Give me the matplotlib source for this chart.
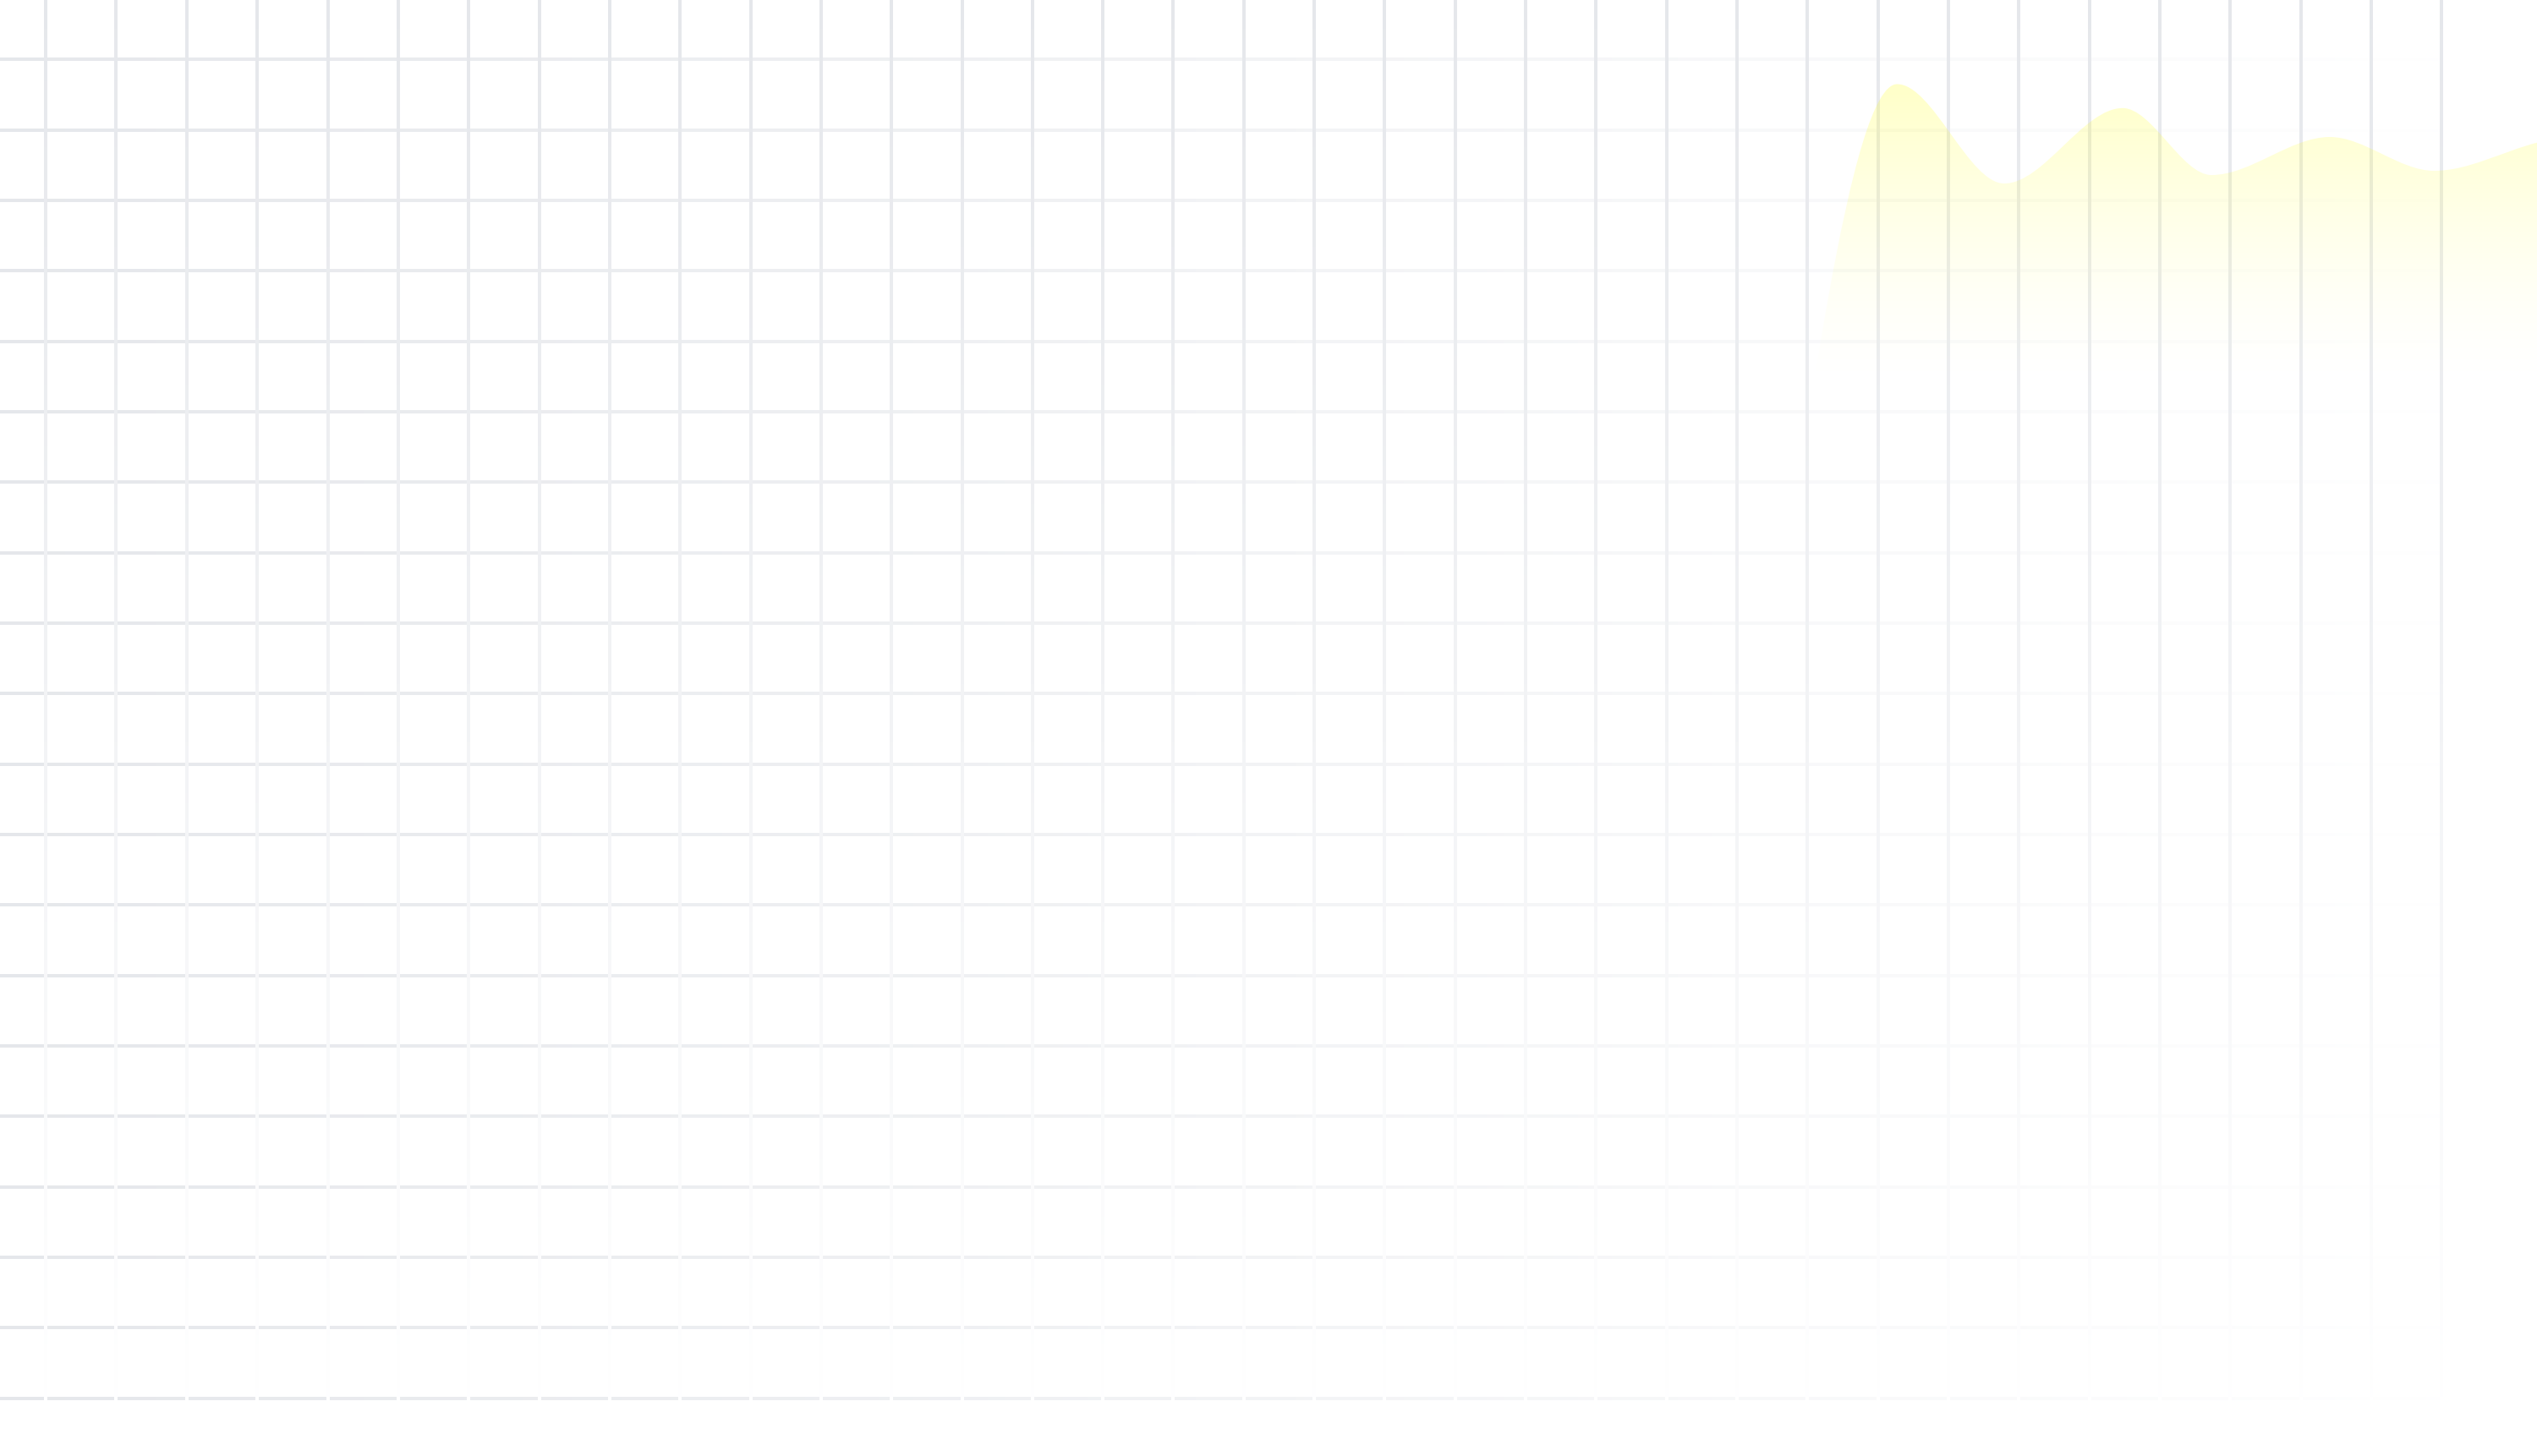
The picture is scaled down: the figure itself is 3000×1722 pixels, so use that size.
import numpy as np
import matplotlib.pyplot as plt
from matplotlib.collections import LineCollection
from matplotlib.path import Path
from matplotlib.patches import PathPatch
from matplotlib.colors import to_rgb

# canvas in grid units (one cell = one unit)
W, H = 36.0, 20.664

# grid: column positions, row positions and how far the lines run
col_x = np.arange(35) + 0.65
row_y = np.arange(20) + 0.82
col_top, col_bottom = 20.64, 0.41
row_left, row_right = 0.0, 35.4

# area curve in the top right corner
curve_x = [21.5, 23.0, 26.92, 28.44, 30.12, 31.38, 33.06, 34.54, 36.0, 37.5]
curve_y = [0.0, 0.0, 19.47, 18.06, 19.13, 18.18, 18.72, 18.24, 18.64, 19.0]

grid_color = '#e5e7eb'
fill_color = '#ffff00'
fill_alpha = 0.22
fade_top, fade_bottom = 19.5, 15.1


def faded_lines(fixed, start, stop, vertical, n=300):
    # line fades from full colour at start to white at stop
    t = np.linspace(0, 1, n + 1)
    pos = start + (stop - start) * t
    base = np.array(to_rgb(grid_color))
    segs, cols = [], []
    for f in fixed:
        for i in range(n):
            if vertical:
                segs.append([(f, pos[i]), (f, pos[i + 1])])
            else:
                segs.append([(pos[i], f), (pos[i + 1], f)])
            a = 1 - (t[i] + t[i + 1]) / 2
            cols.append(1 - a * (1 - base))
    return segs, cols


def monotone_path(x, y):
    # monotone cubic (like d3 curveMonotoneX) as bezier path, closed to y=0
    x = np.asarray(x, float)
    y = np.asarray(y, float)
    h = np.diff(x)
    s = np.diff(y) / h
    n = len(x)
    m = np.zeros(n)
    for i in range(1, n - 1):
        if s[i - 1] * s[i] <= 0:
            m[i] = 0
        else:
            p = (s[i - 1] * h[i] + s[i] * h[i - 1]) / (h[i - 1] + h[i])
            m[i] = (np.sign(s[i - 1]) + np.sign(s[i])) * min(abs(s[i - 1]), abs(s[i]), 0.5 * abs(p))
    m[0] = (3 * s[0] - m[1]) / 2
    m[-1] = (3 * s[-1] - m[-2]) / 2

    verts = [(x[0], y[0])]
    codes = [Path.MOVETO]
    for i in range(n - 1):
        d = h[i] / 3
        verts += [(x[i] + d, y[i] + m[i] * d),
                  (x[i + 1] - d, y[i + 1] - m[i + 1] * d),
                  (x[i + 1], y[i + 1])]
        codes += [Path.CURVE4] * 3
    verts += [(x[-1], 0), (x[0], 0), (x[0], y[0])]
    codes += [Path.LINETO, Path.LINETO, Path.CLOSEPOLY]
    return Path(verts, codes)


fig = plt.figure(figsize=(15, 8.61), dpi=200, facecolor='white')
ax = fig.add_axes([0, 0, 1, 1])
ax.set_facecolor('white')

lw = 4 * 72 / 200

segs, cols = faded_lines(row_y, row_left, row_right, vertical=False)
ax.add_collection(LineCollection(segs, colors=cols, linewidths=lw,
                                 capstyle='projecting', zorder=1))

segs, cols = faded_lines(col_x, col_top, col_bottom, vertical=True)
ax.add_collection(LineCollection(segs, colors=cols, linewidths=lw,
                                 capstyle='projecting', zorder=1))

# yellow area with vertical gradient
area = PathPatch(monotone_path(curve_x, curve_y), facecolor='none',
                 edgecolor='none', transform=ax.transData)
ax.add_patch(area)

yy = np.linspace(0, H, 800)
t = np.clip((yy - fade_bottom) / (fade_top - fade_bottom), 0, 1)
alpha = t ** 1.5 * fill_alpha
img = np.zeros((len(yy), 2, 4))
img[..., :3] = to_rgb(fill_color)
img[..., 3] = alpha[:, None]
im = ax.imshow(img, extent=(0, W, 0, H), origin='lower', aspect='auto',
               interpolation='bilinear', zorder=2)
im.set_clip_path(area)

ax.set_xlim(0, W)
ax.set_ylim(0, H)
ax.axis('off')

fig.savefig('out.png', dpi=200, facecolor='white')
